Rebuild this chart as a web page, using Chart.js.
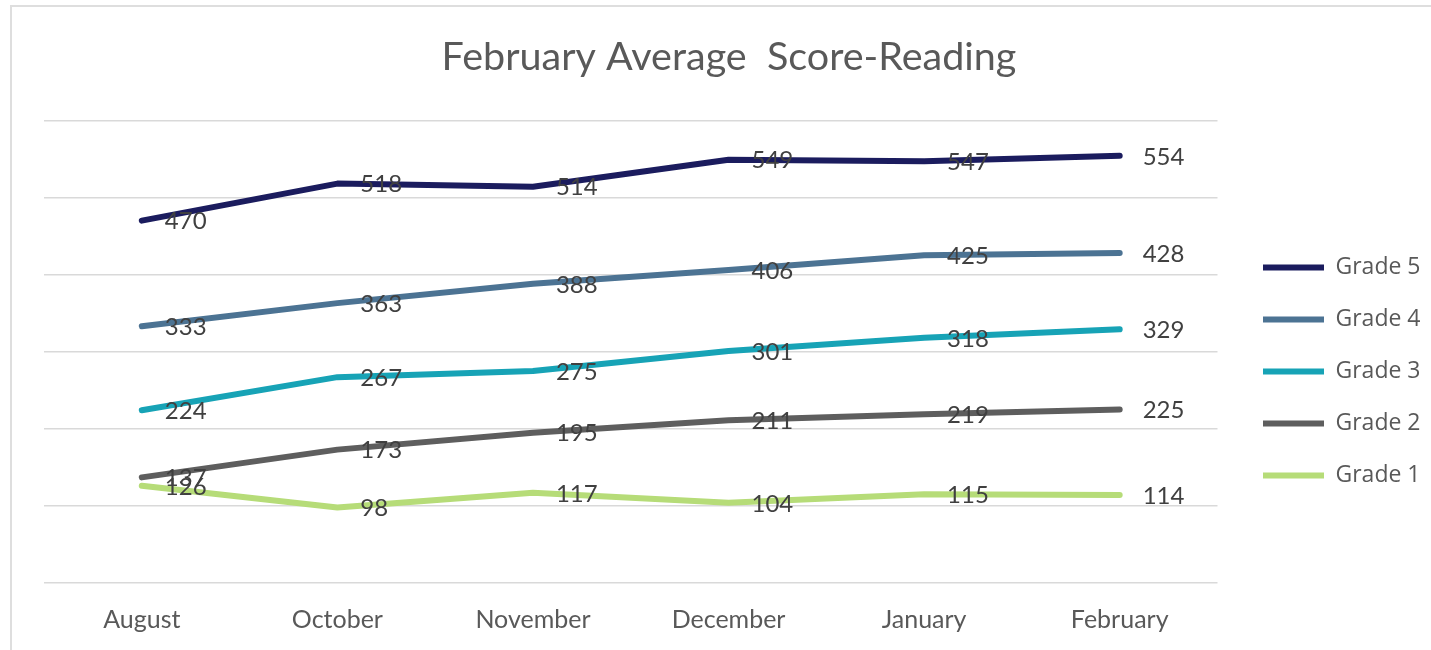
<!DOCTYPE html>
<html>
<head>
<meta charset="utf-8">
<script src="https://cdn.jsdelivr.net/npm/chart.js@4/dist/chart.umd.min.js"></script>
<style>
  html, body { margin: 0; padding: 0; background: #fff; }
  #wrap { position: absolute; left: 0; top: 0; width: 1431px; height: 650px; }
</style>
</head>
<body>
<div id="wrap"><canvas id="c" width="1431" height="650"></canvas></div>
<script>
const months = ["August", "October", "November", "December", "January", "February"];
const grade5 = [470, 518, 514, 549, 547, 554];
const grade4 = [333, 363, 388, 406, 425, 428];
const grade3 = [224, 267, 275, 301, 318, 329];
const grade2 = [137, 173, 195, 211, 219, 225];
const grade1 = [126, 98, 117, 104, 115, 114];
const seriesNames = ["Grade 5", "Grade 4", "Grade 3", "Grade 2", "Grade 1"];
const seriesColors = ["#1b1c5e", "#4c7393", "#17a3b6", "#5e5e5e", "#b6dc78"];
const seriesValues = [grade5, grade4, grade3, grade2, grade1];

const frame = {
  id: 'frame',
  beforeDraw(chart) {
    const ctx = chart.ctx;
    ctx.save();
    ctx.strokeStyle = '#dedede';
    ctx.lineWidth = 2;
    ctx.beginPath();
    ctx.moveTo(11, 650);
    ctx.lineTo(11, 6);
    ctx.lineTo(1431, 6);
    ctx.stroke();
    ctx.restore();
  }
};

const legendPlace = {
  id: 'legendPlace',
  afterLayout(chart) {
    const lg = chart.legend;
    if (!lg) return;
    const pad = lg.options.labels.padding;
    const w = lg.width, h = 289;
    lg.left = 1263 - pad; lg.right = lg.left + w;
    lg.top = 227; lg.bottom = lg.top + h;
  }
};

const dataLabels = {
  id: 'dataLabels',
  afterDatasetsDraw(chart) {
    const ctx = chart.ctx;
    ctx.save();
    ctx.font = '24px Lato';
    ctx.fillStyle = '#404040';
    ctx.textAlign = 'left';
    ctx.textBaseline = 'middle';
    chart.data.datasets.forEach((ds, i) => {
      const meta = chart.getDatasetMeta(i);
      meta.data.forEach((pt, j) => {
        ctx.fillText(String(ds.data[j]), pt.x + 23, pt.y + 1);
      });
    });
    ctx.restore();
  }
};

new Chart(document.getElementById('c'), {
  type: 'line',
  data: {
    labels: months,
    datasets: seriesNames.map((n, i) => ({
      label: n,
      data: seriesValues[i],
      borderColor: seriesColors[i],
      backgroundColor: seriesColors[i],
      borderWidth: 6,
      borderCapStyle: 'round',
      borderJoinStyle: 'round',
      pointRadius: 0,
      pointHoverRadius: 0,
      tension: 0,
      fill: false,
      pointStyle: 'line'
    }))
  },
  options: {
    responsive: false,
    animation: false,
    events: [],
    layout: { padding: { left: 44, right: 17, top: 0, bottom: 0 } },
    plugins: {
      tooltip: { enabled: false },
      title: {
        display: true,
        text: 'February Average  Score-Reading',
        color: '#595959',
        font: { family: 'Lato', size: 39.5, weight: 'normal' },
        padding: { top: 34, bottom: 39 }
      },
      legend: {
        display: true,
        position: 'right',
        fullSize: false,
        align: 'center',
        labels: {
          usePointStyle: true,
          pointStyleWidth: 61,
          boxHeight: 23,
          padding: 29,
          color: '#595959',
          font: { family: 'Open Sans', size: 23 }
        }
      }
    },
    scales: {
      x: {
        offset: true,
        grid: { display: false, drawTicks: false },
        border: { display: false },
        ticks: {
          color: '#595959',
          font: { family: 'Lato', size: 25 },
          padding: 22
        },
        afterFit(scale) { scale.height = 67; }
      },
      y: {
        min: 0,
        max: 600,
        border: { display: false },
        grid: { color: '#d9d9d9', lineWidth: 1.5, drawTicks: false },
        ticks: { display: false, stepSize: 100 }
      }
    }
  },
  plugins: [frame, legendPlace, dataLabels]
});
</script>
</body>
</html>
